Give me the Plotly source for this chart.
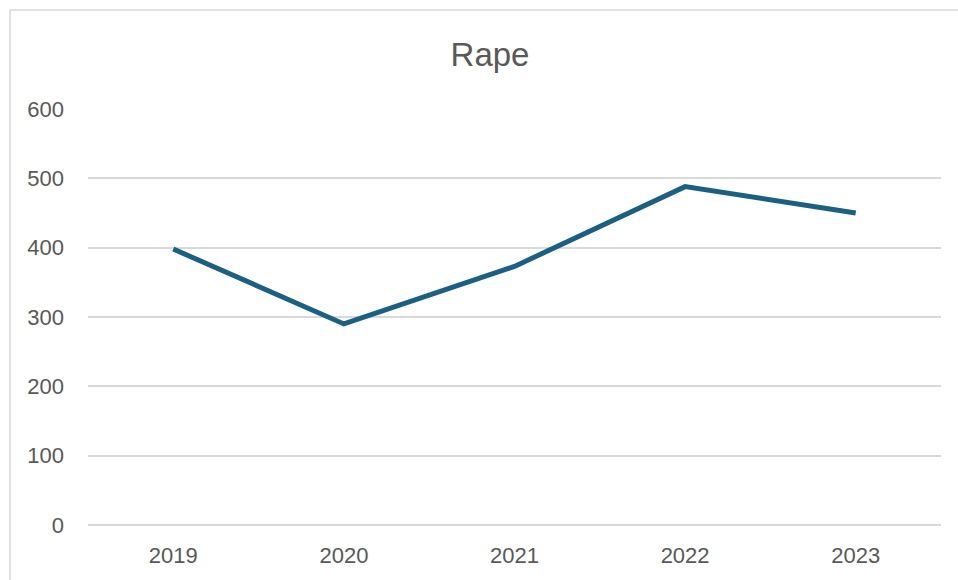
import plotly.graph_objects as go

years = ["2019", "2020", "2021", "2022", "2023"]
rape_counts = [398, 290, 373, 488, 450]
y_ticks = [0, 100, 200, 300, 400, 500, 600]

W, H = 958, 580
ML, MR, MT, MB = 88, 17, 109, 55
plot_w = W - ML - MR
plot_h = H - MT - MB

fig = go.Figure(
    go.Scatter(
        x=years,
        y=rape_counts,
        mode="lines",
        line=dict(color="#1b6082", width=5),
        hoverinfo="x+y",
    )
)

# outer chart border (top-left corner visible, extends past the page edges)
bx0 = (10 - ML) / plot_w
by1 = (H - MB - 10) / plot_h
fig.add_shape(
    type="rect", xref="paper", yref="paper",
    x0=bx0, x1=1.2, y0=-0.3, y1=by1,
    line=dict(color="#d9d9d9", width=1.5), layer="below",
)

fig.update_layout(
    width=W, height=H,
    margin=dict(l=ML, r=MR, t=MT, b=MB),
    paper_bgcolor="white", plot_bgcolor="white",
    showlegend=False,
    font=dict(family="Liberation Sans, Arial, sans-serif", color="#595959", size=22),
    title=dict(
        text="Rape", x=490 / W, xref="container", xanchor="center",
        y=1 - 54 / H, yanchor="middle",
        font=dict(size=33, color="#595959", family="Liberation Sans, Arial, sans-serif"),
    ),
    xaxis=dict(
        type="category", range=[-0.5, 4.5],
        showgrid=False, zeroline=False, showline=False,
        ticks="", ticklabelstandoff=15,
        tickfont=dict(size=22, color="#595959"),
        fixedrange=True,
    ),
    yaxis=dict(
        range=[0, 600], tickvals=y_ticks,
        showgrid=True, gridcolor="#d9d9d9", gridwidth=1.5,
        zeroline=True, zerolinecolor="#d9d9d9", zerolinewidth=1.5,
        showline=False, ticks="", ticklabelstandoff=23,
        tickfont=dict(size=22, color="#595959"),
        fixedrange=True,
    ),
)

fig.write_html("out.html")
